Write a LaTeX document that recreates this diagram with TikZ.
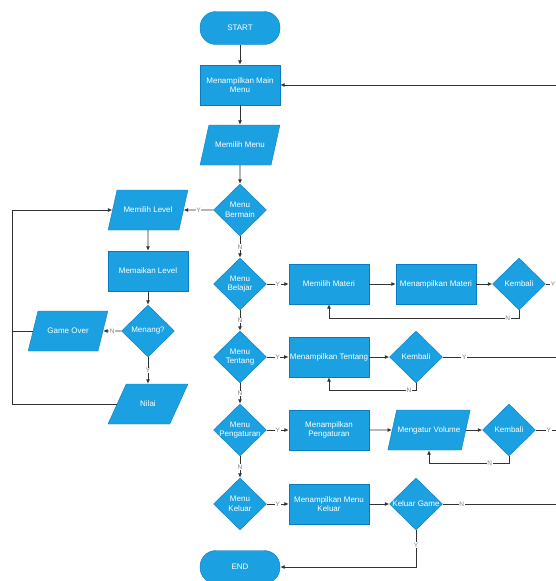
\documentclass[tikz,border=0pt]{standalone}
\usepackage{fontspec}
\setmainfont{Liberation Sans}
\usetikzlibrary{shapes.geometric,arrows.meta}
\begin{document}
\begin{tikzpicture}[x=1pt,y=-1pt,
  box/.style={draw=bord,fill=blu,text=white,font=\fontsize{8}{9.5}\selectfont,align=center,inner sep=1pt},
  terminal/.style={box,rounded corners=16pt,minimum width=80pt,minimum height=33pt},
  process/.style={box,rectangle,minimum width=80pt,minimum height=40pt},
  io/.style={box,trapezium,trapezium left angle=47,trapezium right angle=133,trapezium stretches=true,minimum width=80pt,minimum height=40pt},
  decision/.style={box,diamond,minimum width=53pt,minimum height=52pt,inner sep=0pt,label={[box,draw=none,fill=none]center:#1}},
  line/.style={draw=lin,line width=0.9pt},
  arrow/.style={line,-{Latex[length=4.5pt,width=4pt]}},
  yn/.style={fill=white,text=gray,font=\fontsize{6.5}{6.5}\selectfont,inner sep=0.6pt}]
\definecolor{blu}{HTML}{1BA1E2}
\definecolor{bord}{HTML}{0A7BC0}
\definecolor{lin}{HTML}{333333}
\useasboundingbox (0,0) rectangle (556,581);
\clip (0,0) rectangle (556,581);
\coordinate (lft) at (12,0);
\coordinate (rgt) at (562,0);
\node[terminal] (start) at (240,28) {START};
\node[process] (mainmenu) at (240,85) {Menampilkan Main\\Menu};
\node[io] (pilihmenu) at (240,145) {Memilih Menu};
\node[decision={Menu\\Bermain}] (bermain) at (240,210) {};
\node[decision={Menu\\Belajar}] (belajar) at (240,284) {};
\node[decision={Menu\\Tentang}] (tentang) at (240,357) {};
\node[decision={Menu\\Pengaturan}] (pengaturan) at (240,430) {};
\node[decision={Menu\\Keluar}] (keluar) at (240,504) {};
\node[terminal] (end) at (240,567) {END};
\node[io] (pilihlevel) at (148,210) {Memilih Level};
\node[process] (mainkan) at (148,271) {Memaikan Level};
\node[decision={Menang?}] (menang) at (148,331) {};
\node[io] (gameover) at (68,331) {Game Over};
\node[io] (nilai) at (148,404) {Nilai};
\node[process] (pilihmateri) at (329,284) {Memilih Materi};
\node[process] (tampilmateri) at (436,284) {Menampilkan Materi};
\node[decision=Kembali] (kembalimateri) at (519,284) {};
\node[process] (tampiltentang) at (329,357) {Menampilkan Tentang};
\node[decision=Kembali] (kembalitentang) at (416,357) {};
\node[process] (tampilpengaturan) at (329,430) {Menampilkan\\Pengaturan};
\node[io] (volume) at (429,430) {Mengatur Volume};
\node[decision=Kembali] (kembalipengaturan) at (509,430) {};
\node[process] (tampilkeluar) at (329,504) {Menampilkan Menu\\Keluar};
\node[decision={Keluar Game}] (keluargame) at (416,504) {};
\draw[arrow] (start) -- (mainmenu);
\draw[arrow] (mainmenu) -- (pilihmenu);
\draw[arrow] (pilihmenu) -- (bermain);
\draw[arrow] (mainmenu.east -| rgt) -- (mainmenu.east);
\draw[arrow] (bermain) -- node[yn] {Y} (pilihlevel);
\draw[arrow] (bermain) -- node[yn] {N} (belajar);
\draw[arrow] (belajar) -- node[yn] {N} (tentang);
\draw[arrow] (tentang) -- node[yn] {N} (pengaturan);
\draw[arrow] (pengaturan) -- node[yn] {N} (keluar);
\draw[arrow] (pilihlevel) -- (mainkan);
\draw[arrow] (mainkan) -- (menang);
\draw[arrow] (menang) -- node[yn] {N} (gameover);
\draw[arrow] (menang) -- node[yn] {Y} (nilai);
\draw[line] (gameover.west) -- (gameover.west -| lft);
\draw[arrow] (nilai.west) -- (nilai.west -| lft) |- (pilihlevel.west);
\draw[arrow] (belajar) -- node[yn] {Y} (pilihmateri);
\draw[arrow] (pilihmateri) -- (tampilmateri);
\draw[arrow] (tampilmateri) -- (kembalimateri);
\draw[line] (kembalimateri.east) -- node[yn,pos=0.45] {Y} (kembalimateri.east -| rgt);
\draw[arrow] (kembalimateri.south) -- ++(0,8) -| node[yn,pos=0.03] {N} (pilihmateri.south);
\draw[arrow] (tentang) -- node[yn] {Y} (tampiltentang);
\draw[arrow] (tampiltentang) -- (kembalitentang);
\draw[line] (kembalitentang.east) -- node[yn,pos=0.18] {Y} (kembalitentang.east -| rgt);
\draw[arrow] (kembalitentang.south) -- ++(0,7) -| node[yn,pos=0.04] {N} (tampiltentang.south);
\draw[arrow] (pengaturan) -- node[yn] {Y} (tampilpengaturan);
\draw[arrow] (tampilpengaturan) -- (volume);
\draw[arrow] (volume) -- (kembalipengaturan);
\draw[line] (kembalipengaturan.east) -- node[yn,pos=0.5] {Y} (kembalipengaturan.east -| rgt);
\draw[arrow] (kembalipengaturan.south) -- ++(0,7) -| node[yn,pos=0.12] {N} (volume.south);
\draw[arrow] (keluar) -- node[yn] {Y} (tampilkeluar);
\draw[arrow] (tampilkeluar) -- (keluargame);
\draw[line] (keluargame.east) -- node[yn,pos=0.16] {N} (keluargame.east -| rgt);
\draw[arrow] (keluargame) |- node[yn,pos=0.2] {Y} (end);
\end{tikzpicture}
\end{document}
